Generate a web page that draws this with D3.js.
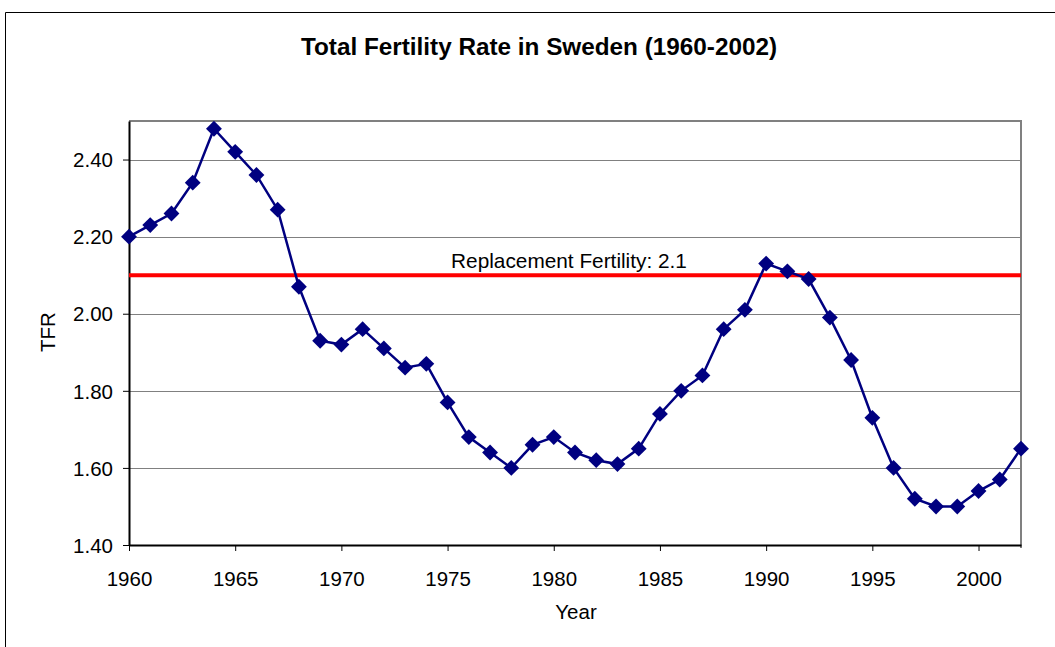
<html><head>
<script src="https://d3js.org/d3.v7.min.js"></script>
<style>
  body { margin:0; background:#fff; }
  text { font-family: Arial, "Liberation Sans", sans-serif; }
</style>
</head>
<body>
<svg id="chart" width="1055" height="647"></svg>
<script>
  const years = d3.range(1960, 2003);
  const tfr = [2.20, 2.23, 2.26, 2.34, 2.48, 2.42, 2.36, 2.27, 2.07, 1.93,
               1.92, 1.96, 1.91, 1.86, 1.87, 1.77, 1.68, 1.64, 1.60, 1.66,
               1.68, 1.64, 1.62, 1.61, 1.65, 1.74, 1.80, 1.84, 1.96, 2.01,
               2.13, 2.11, 2.09, 1.99, 1.88, 1.73, 1.60, 1.52, 1.50, 1.50,
               1.54, 1.57, 1.65];
  const yTicks = [1.40, 1.60, 1.80, 2.00, 2.20, 2.40];
  const xTicks = [1960, 1965, 1970, 1975, 1980, 1985, 1990, 1995, 2000];
  const replacement = 2.1;
  const replacementLabel = "Replacement Fertility: 2.1";

  const svg = d3.select("svg#chart");

  // outer chart frame
  svg.append("path")
     .attr("d", "M5.5,647 L5.5,12.5 L1055,12.5")
     .style("fill","none")
     .style("stroke","#000")
     .style("stroke-width",1);

  let x = d3.scaleLinear().domain([1960, 2002]).range([129, 1021]);
  let y = d3.scaleLinear().domain([1.4, 2.5]).range([545, 121]);

  svg.append("text")
     .text("Total Fertility Rate in Sweden (1960-2002)")
     .attr("x", 539).attr("y", 55)
     .style("text-anchor","middle")
     .style("font-size","24.3px")
     .style("font-weight","bold");

  // grid lines
  yTicks.slice(1).forEach(d => {
    svg.append("line")
       .attr("x1", x(1960)).attr("x2", x(2002))
       .attr("y1", Math.round(y(d)) + 0.5).attr("y2", Math.round(y(d)) + 0.5)
       .style("stroke","#808080").style("stroke-width",1);
  });
  // plot frame top + right
  svg.append("path")
     .attr("d", `M${x(1960)},${y(2.5)} L${x(2002)},${y(2.5)} L${x(2002)},${y(1.4) + 3}`)
     .style("fill","none").style("stroke","#808080").style("stroke-width",2);

  // axes
  let yAxis = d3.axisLeft(y).tickValues(yTicks).tickFormat(d3.format(".2f"))
                .tickSizeInner(6).tickSizeOuter(0).tickPadding(10);
  let xAxis = d3.axisBottom(x).tickValues(xTicks).tickFormat(d3.format("d"))
                .tickSizeInner(6).tickSizeOuter(0).tickPadding(20);

  let gy = svg.append("g").attr("transform", `translate(${x(1960)},0)`).call(yAxis);
  let gx = svg.append("g").attr("transform", `translate(0,${y(1.4)})`).call(xAxis);
  [gx, gy].forEach(g => {
    g.select(".domain").style("stroke","#000").style("stroke-width",2);
    g.selectAll(".tick line").style("stroke","#000");
    g.selectAll(".tick text").style("font-size","20.5px").style("fill","#000")
     .style("font-family","Arial, 'Liberation Sans', sans-serif");
  });
  gy.selectAll(".tick text").attr("dy","0.35em");

  // replacement line
  svg.append("line")
     .attr("x1", x(1960)).attr("x2", x(2002))
     .attr("y1", y(replacement)).attr("y2", y(replacement))
     .style("stroke","#ff0000").style("stroke-width",4);
  svg.append("text")
     .text(replacementLabel)
     .attr("x", 569).attr("y", 268)
     .style("text-anchor","middle")
     .style("font-size","20.8px");

  // data line
  let data = years.map((yr, i) => ({year: yr, v: tfr[i]}));
  svg.append("path")
     .datum(data)
     .attr("d", d3.line().x(d => x(d.year)).y(d => y(d.v)))
     .style("fill","none").style("stroke","#000080").style("stroke-width",2.5);

  data.forEach(d => {
    svg.append("path")
       .attr("d", d3.symbol(d3.symbolDiamond2, 160)())
       .attr("transform", `translate(${x(d.year)},${y(d.v)})`)
       .style("fill","#000080");
  });

  // axis titles
  svg.append("text")
     .text("Year")
     .attr("x", 576).attr("y", 619)
     .style("text-anchor","middle")
     .style("font-size","20.5px");
  svg.append("text")
     .text("TFR")
     .attr("transform", "translate(55,332) rotate(-90)")
     .style("text-anchor","middle")
     .style("font-size","20.5px");
</script>
</body>
</html>
